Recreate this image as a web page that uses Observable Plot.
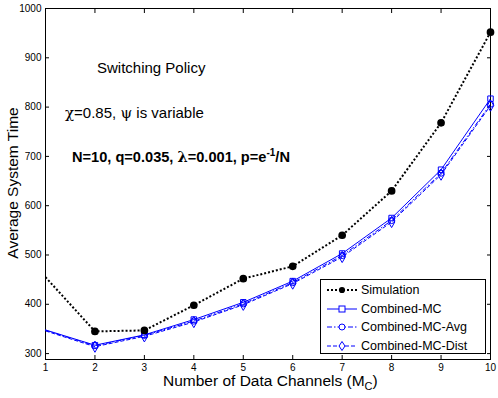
<!DOCTYPE html>
<html><head><meta charset="utf-8">
<script src="https://cdn.jsdelivr.net/npm/d3@7"></script>
<script src="https://cdn.jsdelivr.net/npm/@observablehq/plot@0.6"></script>
<style>
body{margin:0;background:#fff;font-family:"Liberation Sans",Arial,sans-serif;}
#wrap{position:relative;width:498px;height:398px;}
.ann{position:absolute;white-space:nowrap;color:#000;}
.greek{font-family:"DejaVu Serif","Liberation Serif",serif;}
#legend{position:absolute;left:320px;top:279px;width:166px;height:75px;border:1px solid #000;background:#fff;box-sizing:border-box;}
.li{position:absolute;left:6px;height:16px;font-size:12.5px;display:flex;align-items:center;}
.li svg{margin-right:4px;}
</style></head>
<body><div id="wrap"></div>
<script>
const channels = [1,2,3,4,5,6,7,8,9,10];
const simulation = [455,345,347,398,452,477,540,630,768,952];
const combinedMC = [348,317,338,369,404,447,503,575,673,817];
const combinedMCAvg = [347,316,337,366,401,444,499,570,666,806];
const combinedMCDist = [346,314,335,364,399,442,496,567,663,803];
const xTicks = [1,2,3,4,5,6,7,8,9,10];
const yTicks = [300,400,500,600,700,800,900,1000];
const seriesNames = ["Simulation","Combined-MC","Combined-MC-Avg","Combined-MC-Dist"];

const blue = "#0000ff";
const mk = (vals) => channels.map((x,i)=>({x, y: vals[i]}));
const sim = mk(simulation), mc = mk(combinedMC), avg = mk(combinedMCAvg), dist = mk(combinedMCDist);
const vis = d => d.x > 1;
const simDash = "2,2", avgDash = "5,2,1.5,2", distDash = "4,2";

const chart = Plot.plot({
  width: 498, height: 398,
  marginLeft: 45, marginRight: 8, marginTop: 8, marginBottom: 39,
  style: {fontFamily: "Liberation Sans, Arial, sans-serif", fontSize: "10px", color: "#000", background: "#fff"},
  x: {domain: [1,10]},
  y: {domain: [288,1000]},
  marks: [
    Plot.frame({stroke: "#000", strokeWidth: 1}),
    Plot.axisX({anchor: "bottom", ticks: xTicks, tickSize: -4, tickPadding: 8, tickFormat: d => String(d), label: null, fontSize: 10}),
    Plot.axisX({anchor: "top", ticks: xTicks, tickSize: -4, text: null, label: null}),
    Plot.axisY({anchor: "left", ticks: yTicks, tickSize: -4, tickPadding: 8, tickFormat: d => String(d), label: null, fontSize: 10}),
    Plot.axisY({anchor: "right", ticks: yTicks, tickSize: -4, text: null, label: null}),
    Plot.line(dist, {x: "x", y: "y", stroke: blue, strokeWidth: 1, strokeDasharray: distDash, strokeLinecap: "butt", clip: true}),
    Plot.line(avg, {x: "x", y: "y", stroke: blue, strokeWidth: 1, strokeDasharray: avgDash, strokeLinecap: "butt", clip: true}),
    Plot.line(mc, {x: "x", y: "y", stroke: blue, strokeWidth: 1, clip: true}),
    Plot.dot(dist.filter(vis), {x: "x", y: "y", symbol: "diamond", r: 3.4, fill: "none", stroke: blue, strokeWidth: 1}),
    Plot.dot(avg.filter(vis), {x: "x", y: "y", symbol: "circle", r: 3.1, fill: "none", stroke: blue, strokeWidth: 1}),
    Plot.dot(mc.filter(vis), {x: "x", y: "y", symbol: "square", r: 3.1, fill: "none", stroke: blue, strokeWidth: 1}),
    Plot.line(sim, {x: "x", y: "y", stroke: "#000", strokeWidth: 2, strokeDasharray: simDash, strokeLinecap: "butt", clip: true}),
    Plot.dot(sim.filter(vis), {x: "x", y: "y", r: 3.1, fill: "#000", stroke: "#000"})
  ]
});
const wrap = document.getElementById("wrap");
wrap.appendChild(chart);

function add(html, style){const d=document.createElement("div");d.className="ann";d.innerHTML=html;Object.assign(d.style,style);wrap.appendChild(d);return d;}
add("Switching Policy",{left:"97px",top:"59px",fontSize:"15px"});
add('<span class="greek">χ</span>=0.85, <span class="greek">ψ</span> is variable',{left:"65px",top:"104px",fontSize:"15px"});
add('N=10, q=0.035, <span class="greek">λ</span>=0.001, p=e<sup style="font-size:10px">-1</sup>/N',{left:"72px",top:"147px",fontSize:"14.6px",fontWeight:"bold"});
add('Number of Data Channels (M<sub style="font-size:11px">C</sub>)',{left:"163px",top:"372px",fontSize:"15.5px"});
const yl = add("Average System Time",{left:"13px",top:"183px",fontSize:"15.5px",transform:"translate(-50%,-50%) rotate(-90deg)"});

// legend
const leg = document.createElement("div"); leg.id="legend"; wrap.appendChild(leg);
const legendStyles = [
  {stroke:"#000", dash:simDash, w:2, sym:"dot"},
  {stroke:blue, dash:null, w:1, sym:"square"},
  {stroke:blue, dash:avgDash, w:1, sym:"circle"},
  {stroke:blue, dash:distDash, w:1, sym:"diamond"}
];
seriesNames.forEach((name,i)=>{
  const s = legendStyles[i];
  const row = document.createElement("div"); row.className="li"; row.style.top=(2+i*18.5)+"px";
  let symSvg = "";
  if (s.sym==="dot") symSvg = '<circle cx="15" cy="8" r="3.1" fill="#000"/>';
  if (s.sym==="square") symSvg = `<rect x="12" y="5" width="6" height="6" fill="#fff" stroke="${blue}"/>`;
  if (s.sym==="circle") symSvg = `<circle cx="15" cy="8" r="3" fill="#fff" stroke="${blue}"/>`;
  if (s.sym==="diamond") symSvg = `<path d="M15,3.5 L18,8 L15,12.5 L12,8 Z" fill="#fff" stroke="${blue}"/>`;
  row.innerHTML = `<svg width="30" height="16"><line x1="0" x2="30" y1="8" y2="8" stroke="${s.stroke}" stroke-width="${s.w}" ${s.dash?`stroke-dasharray="${s.dash}"`:""}/>${symSvg}</svg><span>${name}</span>`;
  leg.appendChild(row);
});
</script></body></html>
